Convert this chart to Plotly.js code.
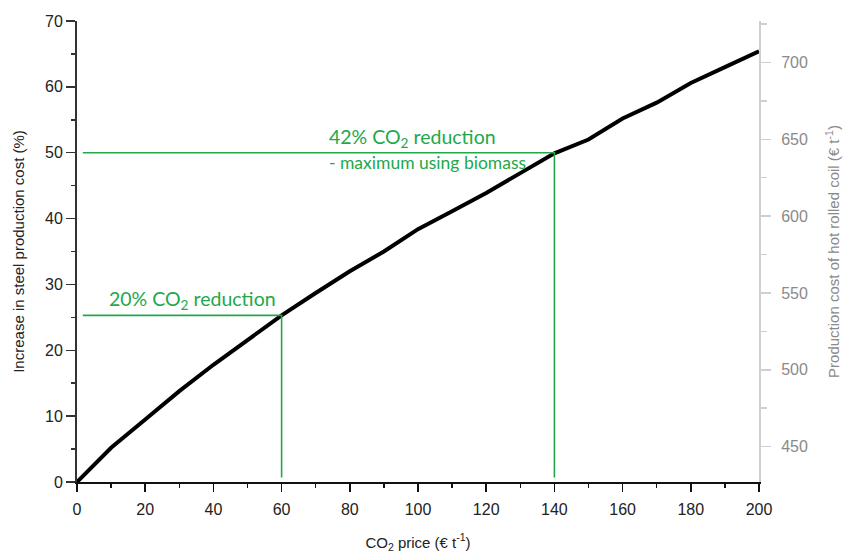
<!DOCTYPE html>
<html>
<head>
<meta charset="utf-8">
<script src="https://cdn.plot.ly/plotly-3.0.1.min.js"></script>
<style>html,body{margin:0;padding:0;background:#fff;}#chart{width:845px;height:553px;}</style>
</head>
<body>
<div id="chart"></div>
<script>
// CO2 price (€/t) and increase in steel production cost (%)
const co2Price = [0, 10, 20, 30, 40, 50, 60, 70, 80, 90, 100, 110, 120, 130, 140, 150, 160, 170, 180, 190, 200];
const costIncrease = [0, 5.2, 9.5, 13.8, 17.8, 21.6, 25.3, 28.7, 32.0, 35.0, 38.4, 41.1, 43.9, 46.9, 49.9, 52.0, 55.2, 57.6, 60.6, 63.0, 65.4];

// Reduction marker points
const markerPrices = [60, 140];
const markerIncrease = [25.3, 50];
const markerLabels = ["20% CO<sub>2</sub> reduction", "42% CO<sub>2</sub> reduction"];
const markerSubLabel = "- maximum using biomass";

// Right-axis (hot rolled coil cost, €/t) range
const rightRange = [427, 727];

const green = '#22a84a';
const lineStart = 1.7, lineBottom = 0.7;

const traces = [{
  x: co2Price, y: costIncrease, type: 'scatter', mode: 'lines',
  line: {color: '#000', width: 4}, hoverinfo: 'skip'
}];
markerPrices.forEach((p, i) => {
  traces.push({
    x: [lineStart, p, p], y: [markerIncrease[i], markerIncrease[i], lineBottom],
    type: 'scatter', mode: 'lines', line: {color: green, width: 1.6}, hoverinfo: 'skip'
  });
});
traces.push({x: [0], y: [rightRange[0]], yaxis: 'y2', type: 'scatter', mode: 'markers',
  marker: {opacity: 0}, hoverinfo: 'skip'});

const sans = 'Arial, Liberation Sans, sans-serif';
const annFont = {family: 'Lato, sans-serif', color: green, size: 19.5};
const layout = {
  width: 845, height: 553,
  margin: {l: 77, r: 86, t: 21, b: 71},
  showlegend: false,
  paper_bgcolor: '#fff', plot_bgcolor: '#fff',
  font: {family: sans, color: '#222', size: 16},
  xaxis: {
    range: [0, 200], dtick: 20, tick0: 0, showgrid: false, zeroline: false,
    showline: true, linecolor: '#111', linewidth: 2,
    ticks: 'outside', ticklen: 8, tickwidth: 1.5, tickcolor: '#111', ticklabelstandoff: 4,
    minor: {dtick: 10, tick0: 0, ticks: 'outside', ticklen: 4, tickwidth: 1.5, tickcolor: '#111', showgrid: false},
    tickfont: {family: sans, size: 16, color: '#222'},
    title: {text: 'CO<sub>2</sub> price (€ t<sup>-1</sup>)', font: {family: sans, size: 15, color: '#222'}, standoff: 20}
  },
  yaxis: {
    range: [0, 70], dtick: 10, tick0: 0, showgrid: false, zeroline: false,
    showline: true, linecolor: '#333', linewidth: 2,
    ticks: 'outside', ticklen: 9, tickwidth: 1.5, tickcolor: '#333',
    minor: {dtick: 5, tick0: 0, ticks: 'outside', ticklen: 4.5, tickwidth: 1.5, tickcolor: '#333', showgrid: false},
    tickfont: {family: sans, size: 16, color: '#222'},
    title: {text: 'Increase in steel production cost (%)', font: {family: sans, size: 15, color: '#222'}, standoff: 17}
  },
  yaxis2: {
    overlaying: 'y', side: 'right', anchor: 'x',
    range: rightRange, dtick: 50, tick0: 450, showgrid: false, zeroline: false,
    showline: true, linecolor: '#cfcfcf', linewidth: 2,
    ticks: 'outside', ticklen: 10, tickwidth: 1.5, tickcolor: '#cfcfcf', ticklabelstandoff: 7,
    minor: {dtick: 25, tick0: 425, ticks: 'outside', ticklen: 6, tickwidth: 1.5, tickcolor: '#cfcfcf', showgrid: false},
    tickfont: {family: sans, size: 16, color: '#8a8a8a'},
    title: {text: 'Production cost of hot rolled coil (€ t<sup>-1</sup>)', font: {family: sans, size: 15, color: '#8a8a8a'}, standoff: 22}
  },
  annotations: [
    {x: 8.8, y: 27.7, xref: 'x', yref: 'y', text: markerLabels[0], showarrow: false,
     xanchor: 'left', yanchor: 'middle', font: annFont},
    {x: 73.3, y: 52.3, xref: 'x', yref: 'y', text: markerLabels[1], showarrow: false,
     xanchor: 'left', yanchor: 'middle', font: annFont},
    {x: 73.3, y: 48.5, xref: 'x', yref: 'y', text: markerSubLabel, showarrow: false,
     xanchor: 'left', yanchor: 'middle', font: {family: 'Lato, sans-serif', color: green, size: 17.5}}
  ]
};
Plotly.newPlot('chart', traces, layout, {displayModeBar: false, staticPlot: true});
</script>
</body>
</html>
